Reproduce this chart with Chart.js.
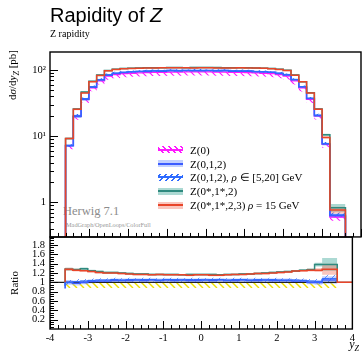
<!DOCTYPE html>
<html>
<head>
<meta charset="utf-8">
<script src="https://cdn.jsdelivr.net/npm/chart.js@4/dist/chart.umd.min.js"></script>
<style>
  html, body { margin: 0; padding: 0; background: #fff; }
  #wrap { position: relative; width: 364px; height: 358px; overflow: hidden; font-family: 'Liberation Serif', serif; color: #000; }
  .abs { position: absolute; white-space: nowrap; }
  canvas { position: absolute; left: 0; }
  #title { left: 50px; top: 5px; font: 20px/20px 'Liberation Sans', Arial, sans-serif; }
  #subtitle { left: 50px; top: 29px; font-size: 10px; line-height: 10px; }
  .rot { transform: rotate(-90deg); transform-origin: left top; width: 200px; font-size: 11px; line-height: 13px; }
  #ylab { left: 6px; top: 250px; text-align: right; }
  #rlab { left: 8px; top: 383px; text-align: center; }
  #xlab { right: 5px; top: 338px; font-size: 12px; line-height: 12px; }
  #gen { left: 63px; top: 205px; font-size: 12.5px; line-height: 13px; color: #8c8c8c; }
  #gen2 { left: 66px; top: 221px; font-size: 6.3px; line-height: 7px; color: #999; }
  #legend { left: 158px; top: 143px; font-size: 11px; }
  .row { display: flex; align-items: center; height: 13.8px; }
  .sw { width: 25px; height: 7px; margin-right: 7px; position: relative; }
  .sw::after { content: ''; position: absolute; left: 0; right: 0; top: 2.5px; height: 2px; background: var(--c); }
</style>
</head>
<body>
<div id="wrap">
  <div id="gen" class="abs">Herwig 7.1</div>
  <div id="gen2" class="abs">MadGraph/OpenLoops/ColorFull</div>
  <canvas id="main" width="364" height="241" style="top:0"></canvas>
  <canvas id="ratio" width="364" height="126" style="top:232px"></canvas>
  <div id="title" class="abs">Rapidity of <i>Z</i></div>
  <div id="subtitle" class="abs">Z rapidity</div>
  <div id="ylab" class="abs rot">d<i>σ</i>/d<i>y</i><sub style="font-size:8px"><i>Z</i></sub> [pb]</div>
  <div id="rlab" class="abs rot">Ratio</div>
  <div id="xlab" class="abs"><i>y</i><sub style="font-size:8px"><i>Z</i></sub></div>
  <div id="legend" class="abs"></div>
</div>
<script>
// ── data ─────────────────────────────────────────────────────────────────────

const binEdges = [-3.6, -3.4, -3.2, -3.0, -2.8, -2.6, -2.4, -2.2, -2.0, -1.8, -1.6, -1.4,
  -1.2, -1.0, -0.8, -0.6, -0.4, -0.2, 0, 0.2, 0.4, 0.6, 0.8, 1.0, 1.2, 1.4, 1.6, 1.8,
  2.0, 2.2, 2.4, 2.6, 2.8, 3.0, 3.2, 3.4, 3.6];

// Z(0), the reference, dσ/dy in pb
const z0 = [0.67, 7.2, 20.2, 36, 54, 68.5, 81, 85, 88, 89.5, 90.5, 91.5, 92, 92.5, 93, 93,
  93.5, 93.5, 93.5, 93.5, 93, 93, 92.5, 92, 91.5, 90.5, 89.5, 88, 85, 81, 68.5, 53.6, 36,
  20.3, 7.6, 0.6];

// ratios to Z(0)
const ratioZ012 = [0.87, 1.00, 0.98, 1.00, 1.02, 1.03, 1.03, 1.04, 1.04, 1.04, 1.05, 1.04,
  1.05, 1.04, 1.05, 1.04, 1.05, 1.04, 1.04, 1.05, 1.04, 1.05, 1.04, 1.04, 1.05, 1.04, 1.04,
  1.05, 1.04, 1.04, 1.04, 1.03, 1.03, 1.00, 1.00, 1.05];
const ratioRho = [0.92, 1.00, 1.02, 1.03, 1.04, 1.05, 1.05, 1.06, 1.05, 1.06, 1.05, 1.06,
  1.06, 1.05, 1.06, 1.06, 1.05, 1.06, 1.06, 1.05, 1.06, 1.06, 1.05, 1.06, 1.06, 1.05, 1.06,
  1.05, 1.06, 1.05, 1.05, 1.05, 1.04, 1.03, 1.02, 1.08];
const ratioTeal = [1.30, 1.28, 1.27, 1.29, 1.25, 1.23, 1.21, 1.21, 1.20, 1.19, 1.18, 1.18,
  1.17, 1.17, 1.17, 1.17, 1.16, 1.17, 1.17, 1.17, 1.17, 1.16, 1.17, 1.17, 1.18, 1.18, 1.19,
  1.20, 1.21, 1.22, 1.23, 1.24, 1.26, 1.27, 1.38, 1.38];
const ratioRed = [1.27, 1.28, 1.26, 1.25, 1.23, 1.21, 1.20, 1.20, 1.19, 1.18, 1.17, 1.17,
  1.16, 1.17, 1.16, 1.16, 1.16, 1.15, 1.16, 1.16, 1.15, 1.15, 1.16, 1.17, 1.17, 1.18, 1.19,
  1.19, 1.20, 1.21, 1.22, 1.24, 1.25, 1.26, 1.26, 1.28];

// relative uncertainties
const errZ012 = [0.09, 0.05, 0.05, 0.04, 0.04, 0.04, 0.04, 0.04, 0.04, 0.04, 0.04, 0.04,
  0.04, 0.04, 0.04, 0.04, 0.04, 0.04, 0.04, 0.04, 0.04, 0.04, 0.04, 0.04, 0.04, 0.04, 0.04,
  0.04, 0.04, 0.04, 0.04, 0.04, 0.04, 0.04, 0.05, 0.08];
const errTeal = [0.10, 0.03, 0.03, 0.03, 0.02, 0.02, 0.02, 0.02, 0.02, 0.02, 0.02, 0.02,
  0.02, 0.02, 0.02, 0.02, 0.02, 0.02, 0.02, 0.02, 0.02, 0.02, 0.02, 0.02, 0.02, 0.02, 0.02,
  0.02, 0.02, 0.02, 0.02, 0.02, 0.02, 0.03, 0.04, 0.14];
const errRed = [0.16, 0.03, 0.03, 0.02, 0.02, 0.02, 0.02, 0.02, 0.02, 0.02, 0.02, 0.02,
  0.02, 0.02, 0.02, 0.02, 0.02, 0.02, 0.02, 0.02, 0.02, 0.02, 0.02, 0.02, 0.02, 0.02, 0.02,
  0.02, 0.02, 0.02, 0.02, 0.02, 0.02, 0.03, 0.04, 0.12];
const z0Lower = 0.88; // hatched Z(0) band sits below the central value

const xTickLabels = ['-4', '-3', '-2', '-1', '0', '1', '2', '3', '4'];
const yTickLabels = { 1: '1', 10: '10¹', 100: '10²' };
const ratioTickLabels = ['0.2', '0.4', '0.6', '0.8', '1', '1.2', '1.4', '1.6', '1.8'];

const seriesNames = ['Z(0)', 'Z(0,1,2)', 'Z(0,1,2), ρ ∈ [5,20] GeV', 'Z(0*,1*,2)', 'Z(0*,1*,2,3) ρ = 15 GeV'];

// ── styles ───────────────────────────────────────────────────────────────────

const C = {
  magenta: '#ff1aff',
  blue: '#3b5cff',
  blueBand: 'rgba(120,150,255,0.45)',
  rho: '#2e6bff',
  rhoLight: 'rgba(46,107,255,0.7)',
  teal: '#2f8a7f',
  tealBand: 'rgba(70,170,158,0.45)',
  red: '#e8452a',
  redBand: 'rgba(242,120,100,0.42)',
  yellow: '#eee000',
};
// tiny lineHeight keeps Chart.js from padding the chart area around tick labels
const FONT = { family: "'Liberation Serif', serif", size: 10.5, lineHeight: 0.01 };

const MAIN_BOTTOM = 237; // shared border between the two panels
const RATIO_BOTTOM = 329;

/** diagonal hatch pattern; dir 1 = '/', -1 = '\' */
function hatch(color, dir, gap, width) {
  const c = document.createElement('canvas');
  c.width = c.height = gap;
  const g = c.getContext('2d');
  g.strokeStyle = color;
  g.lineWidth = width;
  g.beginPath();
  for (const o of [-gap, 0, gap]) {
    if (dir > 0) { g.moveTo(o, gap); g.lineTo(o + gap, 0); }
    else { g.moveTo(o, 0); g.lineTo(o + gap, gap); }
  }
  g.stroke();
  return g.createPattern(c, 'repeat');
}

// ── helpers ──────────────────────────────────────────────────────────────────

/** step points at bin edges (last value repeated at the upper edge) */
function steps(vals) {
  return binEdges.map((x, i) => ({ x, y: vals[Math.min(i, vals.length - 1)] }));
}

/** same, closed down to `base` at both ends */
function histo(vals, base) {
  return [{ x: binEdges[0], y: base }, ...steps(vals), { x: binEdges[binEdges.length - 1], y: base }];
}

function lineDs(data, color, width, order) {
  return { data, borderColor: color, borderWidth: width, stepped: 'after', fill: false, order, clip: 0 };
}

function bandDs(upper, lower, fillStyle, order) {
  return [
    { data: steps(upper), borderWidth: 0, borderColor: 'transparent', backgroundColor: fillStyle, stepped: 'after', fill: '+1', order, clip: 0 },
    { data: steps(lower), borderWidth: 0, borderColor: 'transparent', stepped: 'after', fill: false, order, clip: 0 },
  ];
}

const frameTicks = {
  id: 'frameTicks',
  afterDatasetsDraw(chart, args, opts) {
    const { ctx, chartArea: a, scales } = chart;
    ctx.save();
    ctx.strokeStyle = '#000';
    ctx.lineWidth = 1;
    ctx.beginPath();
    for (const [v, len] of opts.x) {
      const px = Math.round(scales.x.getPixelForValue(v)) + 0.5;
      ctx.moveTo(px, a.bottom); ctx.lineTo(px, a.bottom - len);
    }
    for (const [v, len] of opts.y) {
      const py = Math.round(scales.y.getPixelForValue(v)) + 0.5;
      ctx.moveTo(a.left, py); ctx.lineTo(a.left + len, py);
    }
    ctx.stroke();
    ctx.lineWidth = 1.4;
    ctx.strokeRect(a.left, a.top, a.right - a.left, a.bottom - a.top);
    ctx.restore();
  },
};

const xTicks = [];
for (let k = -40; k <= 40; k += 2) xTicks.push([k / 10, k % 10 === 0 ? 8 : 4]);

const logTicks = [];
for (const dec of [0.1, 1, 10, 100]) {
  for (let k = 1; k <= 9; k++) {
    const v = k * dec;
    if (v >= 0.3 && v <= 187) logTicks.push([v, k === 1 ? 8 : 4]);
  }
}

const ratioTicks = [];
for (let k = 1; k <= 39; k++) ratioTicks.push([k / 20, k % 4 === 0 ? 8 : 4]);

function fixWidth(w) { return (s) => { s.width = w; }; }
function fixHeight(h) { return (s) => { s.height = h; }; }

const common = {
  responsive: false,
  maintainAspectRatio: false,
  animation: false,
  devicePixelRatio: 1,
  elements: { point: { radius: 0 } },
  plugins: { legend: { display: false }, tooltip: { enabled: false } },
};

// ── main panel ───────────────────────────────────────────────────────────────

const zZ012 = z0.map((v, i) => v * ratioZ012[i]);
const zRho = z0.map((v, i) => v * ratioRho[i]);
const zTeal = z0.map((v, i) => v * ratioTeal[i]);
const zRed = z0.map((v, i) => v * ratioRed[i]);
const scaled = (vals, err, s) => vals.map((v, i) => v * (1 + s * err[i]));

const mainCanvas = document.getElementById('main');
const mainChart = new Chart(mainCanvas, {
  type: 'line',
  data: {
    datasets: [
      ...bandDs(z0, z0.map((v) => v * z0Lower), hatch(C.magenta, -1, 7, 1.2), 20),
      ...bandDs(scaled(zZ012, errZ012, 1), scaled(zZ012, errZ012, -1), C.blueBand, 19),
      ...bandDs(scaled(zRho, errZ012, 1), scaled(zRho, errZ012, -1), hatch(C.rho, 1, 6, 1.1), 18),
      ...bandDs(scaled(zTeal, errTeal, 1), scaled(zTeal, errTeal, -1), C.tealBand, 17),
      ...bandDs(scaled(zRed, errRed, 1), scaled(zRed, errRed, -1), C.redBand, 16),
      lineDs(histo(z0, 0.01), C.magenta, 1.4, 5),
      lineDs(histo(zZ012, 0.01), C.blue, 1.6, 4),
      lineDs(histo(zRho, 0.01), C.rho, 1.0, 3),
      lineDs(histo(zTeal, 0.01), C.teal, 1.5, 2),
      lineDs(histo(zRed, 0.01), C.red, 1.5, 1),
    ],
  },
  options: {
    ...common,
    layout: { padding: { top: 52, right: 3, bottom: 1, left: 0 } },
    scales: {
      x: { type: 'linear', min: -4, max: 4, display: false },
      y: {
        type: 'logarithmic', min: 0.3, max: 187,
        afterFit: fixWidth(50),
        afterBuildTicks: (s) => { s.ticks = [1, 10, 100].map((value) => ({ value })); },
        grid: { display: false, drawTicks: false },
        border: { display: false },
        ticks: { font: FONT, color: '#000', padding: 4, callback: (v) => yTickLabels[v] ?? '' },
      },
    },
    plugins: { ...common.plugins, frameTicks: { x: xTicks, y: logTicks } },
  },
  plugins: [frameTicks],
});
// Chart.js keeps a little padding below the area; size the canvas so the frame ends at MAIN_BOTTOM
{
  const extra = Math.round(MAIN_BOTTOM - mainChart.chartArea.bottom);
  if (extra) mainChart.resize(364, mainCanvas.height + extra);
}

// ── ratio panel ──────────────────────────────────────────────────────────────

const rBand = (r, err, s) => r.map((v, i) => v + s * err[i]);

const ratioCanvas = document.getElementById('ratio');
const ratioChart = new Chart(ratioCanvas, {
  type: 'line',
  data: {
    datasets: [
      ...bandDs(z0.map(() => 1), z0.map(() => z0Lower), hatch(C.yellow, -1, 7, 1.4), 20),
      ...bandDs(rBand(ratioZ012, errZ012, 1), rBand(ratioZ012, errZ012, -1), C.blueBand, 19),
      ...bandDs(rBand(ratioRho, errZ012, 1), rBand(ratioRho, errZ012, -1), hatch(C.rhoLight, 1, 7, 1), 18),
      ...bandDs(rBand(ratioTeal, errTeal, 1), rBand(ratioTeal, errTeal, -1), C.tealBand, 17),
      ...bandDs(rBand(ratioRed, errRed, 1), rBand(ratioRed, errRed, -1), C.redBand, 16),
      lineDs([{ x: -4, y: 1 }, { x: 4, y: 1 }], '#222', 1.2, 6),
      lineDs(histo(ratioZ012, 1), C.blue, 1.6, 4),
      lineDs(histo(ratioRho, 1), C.rho, 1.0, 3),
      lineDs(histo(ratioTeal, 1), C.teal, 1.5, 2),
      lineDs([...histo(ratioRed, 1), { x: 4, y: 1 }], C.red, 1.5, 1),
    ],
  },
  options: {
    ...common,
    layout: { padding: { top: 1, right: 3, bottom: 0, left: 0 } },
    scales: {
      x: {
        type: 'linear', min: -4, max: 4,
        afterFit: fixHeight(29),
        afterBuildTicks: (s) => { s.ticks = xTickLabels.map((l) => ({ value: Number(l) })); },
        grid: { display: false, drawTicks: false },
        border: { display: false },
        ticks: { font: FONT, color: '#000', padding: 9, maxRotation: 0, autoSkip: false,
          callback: (v) => xTickLabels[xTickLabels.indexOf(String(v))] ?? '' },
      },
      y: {
        type: 'linear', min: 0, max: 1.97,
        afterFit: fixWidth(50),
        afterBuildTicks: (s) => { s.ticks = ratioTickLabels.map((l) => ({ value: Number(l) })); },
        grid: { display: false, drawTicks: false },
        border: { display: false },
        ticks: { font: FONT, color: '#000', padding: 5, autoSkip: false,
          callback: (v) => ratioTickLabels.find((l) => Number(l) === v) ?? '' },
      },
    },
    plugins: { ...common.plugins, frameTicks: { x: xTicks, y: ratioTicks } },
  },
  plugins: [frameTicks],
});
// the ratio frame starts where the main frame ends and stops at RATIO_BOTTOM
{
  const a = ratioChart.chartArea;
  const grow = Math.round(RATIO_BOTTOM - MAIN_BOTTOM - (a.bottom - a.top));
  if (grow) ratioChart.resize(364, ratioCanvas.height + grow);
  ratioCanvas.style.top = `${MAIN_BOTTOM - Math.round(ratioChart.chartArea.top)}px`;
}

// ── legend ───────────────────────────────────────────────────────────────────

const swatches = [
  `--c:${C.magenta};background:repeating-linear-gradient(45deg,transparent 0 3px,${C.magenta} 3px 4.3px)`,
  `--c:${C.blue};background:${C.blueBand}`,
  `--c:${C.rho};background:repeating-linear-gradient(-45deg,transparent 0 3px,${C.rho} 3px 4.3px)`,
  `--c:${C.teal};background:${C.tealBand}`,
  `--c:${C.red};background:${C.redBand}`,
];
document.getElementById('legend').innerHTML = seriesNames
  .map((name, i) => `<div class="row"><div class="sw" style="${swatches[i]}"></div><span>${name.replace('ρ', '<i>ρ</i>')}</span></div>`)
  .join('');
</script>
</body>
</html>
